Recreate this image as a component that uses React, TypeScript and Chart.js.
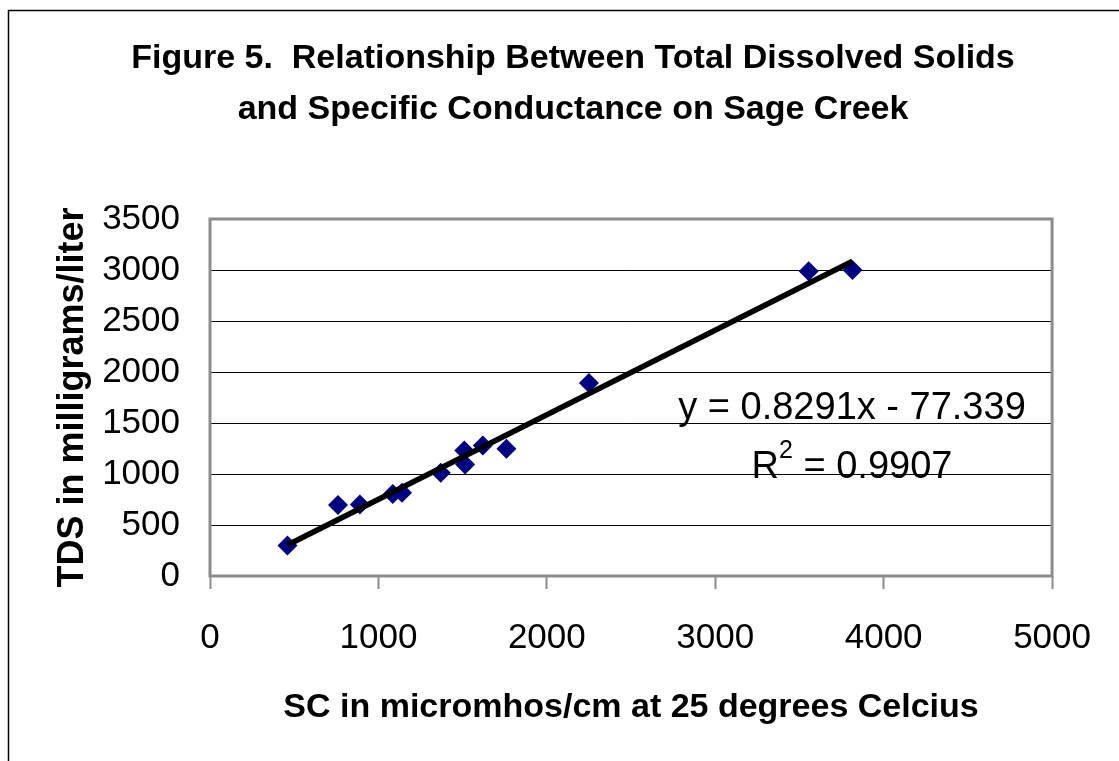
import React, { useEffect, useRef } from "react";
import { Chart, registerables } from "chart.js";

Chart.register(...registerables);

// ---- Data ----
const scValues = [460, 760, 890, 1085, 1140, 1370, 1510, 1515, 1620, 1760, 2250, 3555, 3815];
const tdsValues = [300, 695, 700, 805, 815, 1012, 1230, 1093, 1280, 1248, 1893, 2988, 3000];
const TREND_SLOPE = 0.8291;
const TREND_INTERCEPT = -77.339;
const equationText = "y = 0.8291x - 77.339";
const r2Text = "0.9907";
const titleLines = [
  "Figure 5.  Relationship Between Total Dissolved Solids",
  "and Specific Conductance on Sage Creek",
];
const xAxisTitle = "SC in micromhos/cm at 25 degrees Celcius";
const yAxisTitle = "TDS in milligrams/liter";
const xTickValues = [0, 1000, 2000, 3000, 4000, 5000];
const yTickValues = [0, 500, 1000, 1500, 2000, 2500, 3000, 3500];

const FONT = "'Liberation Sans', Arial, Helvetica, sans-serif";

const framePlugin = {
  id: "frame",
  beforeDraw(chart: any) {
    const { ctx, width, height } = chart;
    ctx.save();
    ctx.fillStyle = "#ffffff";
    ctx.fillRect(0, 0, width, height);
    ctx.restore();
  },
  beforeDatasetsDraw(chart: any) {
    const { ctx, chartArea: a } = chart;
    ctx.save();
    ctx.strokeStyle = "#8c8c8c";
    ctx.lineWidth = 3;
    ctx.strokeRect(a.left, a.top, a.right - a.left, a.bottom - a.top);
    ctx.restore();
  },
  afterDraw(chart: any) {
    const { ctx, width, height } = chart;
    ctx.save();
    ctx.strokeStyle = "#000000";
    ctx.lineWidth = 1.5;
    ctx.beginPath();
    ctx.moveTo(width, 10.5);
    ctx.lineTo(8.5, 10.5);
    ctx.lineTo(8.5, height);
    ctx.stroke();
    ctx.restore();
  },
};

const equationPlugin = {
  id: "equation",
  afterDatasetsDraw(chart: any) {
    const { ctx, chartArea: a } = chart;
    const cx = a.left + 642;
    const base1 = a.top + 200;
    const base2 = base1 + 59;
    ctx.save();
    ctx.fillStyle = "#000000";
    ctx.textBaseline = "alphabetic";
    const mainFont = `38px ${FONT}`;
    const supFont = `25px ${FONT}`;
    ctx.font = mainFont;
    ctx.textAlign = "center";
    ctx.fillText(equationText, cx, base1);
    ctx.textAlign = "left";
    const wR = ctx.measureText("R").width;
    const rest = " = " + r2Text;
    const wRest = ctx.measureText(rest).width;
    ctx.font = supFont;
    const w2 = ctx.measureText("2").width;
    const total = wR + w2 + wRest;
    const x0 = cx - total / 2;
    ctx.font = mainFont;
    ctx.fillText("R", x0, base2);
    ctx.font = supFont;
    ctx.fillText("2", x0 + wR, base2 - 20);
    ctx.font = mainFont;
    ctx.fillText(rest, x0 + wR + w2, base2);
    ctx.restore();
  },
};

export default function App() {
  const canvasRef = useRef<HTMLCanvasElement | null>(null);

  useEffect(() => {
    if (!canvasRef.current) return;
    const points = scValues.map((x, i) => ({ x, y: tdsValues[i] }));
    const minX = Math.min(...scValues);
    const maxX = Math.max(...scValues);
    const trend = [
      { x: minX, y: TREND_SLOPE * minX + TREND_INTERCEPT },
      { x: maxX, y: TREND_SLOPE * maxX + TREND_INTERCEPT },
    ];

    const chart = new Chart(canvasRef.current, {
      type: "scatter",
      data: {
        datasets: [
          {
            label: "Trend",
            data: trend,
            showLine: true,
            borderColor: "#000000",
            borderWidth: 5.5,
            pointRadius: 0,
            order: 0,
          },
          {
            label: "TDS",
            data: points,
            pointStyle: "rectRot",
            pointRadius: 10,
            pointHoverRadius: 10,
            backgroundColor: "#000080",
            borderColor: "#000080",
            borderWidth: 0,
            order: 1,
          },
        ],
      },
      options: {
        responsive: false,
        animation: false,
        devicePixelRatio: 1,
        layout: { padding: { left: 27, top: 0, right: 0, bottom: 0 } },
        plugins: {
          legend: { display: false },
          tooltip: { enabled: false },
          title: {
            display: true,
            text: titleLines,
            color: "#000000",
            font: { family: FONT, size: 34, weight: "bold", lineHeight: 1.5 },
            padding: { top: 33, bottom: 84 },
          },
        },
        scales: {
          x: {
            type: "linear",
            min: 0,
            max: 5000,
            afterBuildTicks: (scale: any) => {
              scale.ticks = xTickValues.map((v) => ({ value: v }));
            },
            afterFit: (scale: any) => {
              scale.height = 185;
            },
            grid: {
              display: true,
              drawOnChartArea: false,
              drawTicks: true,
              tickLength: 13,
              tickColor: "#8c8c8c",
              tickWidth: 2,
            },
            border: { display: false },
            ticks: {
              color: "#000000",
              padding: 28,
              maxRotation: 0,
              font: { family: FONT, size: 35 },
              callback: (v: any) => String(v),
            },
            title: {
              display: true,
              text: xAxisTitle,
              color: "#000000",
              font: { family: FONT, size: 34, weight: "bold" },
              padding: { top: 0, bottom: 33 },
            },
          },
          y: {
            type: "linear",
            position: "left",
            min: 0,
            max: 3500,
            afterBuildTicks: (scale: any) => {
              scale.ticks = yTickValues.map((v) => ({ value: v }));
            },
            afterFit: (scale: any) => {
              scale.width = 183;
            },
            grid: {
              display: true,
              drawOnChartArea: true,
              drawTicks: false,
              color: "#000000",
              lineWidth: 1,
            },
            border: { display: false },
            ticks: {
              color: "#000000",
              padding: 30,
              font: { family: FONT, size: 35 },
              callback: (v: any) => String(v),
            },
            title: {
              display: true,
              text: yAxisTitle,
              color: "#000000",
              font: { family: FONT, size: 36, weight: "bold" },
              padding: { top: 24, bottom: 0 },
            },
          },
          ySpacer: {
            type: "linear",
            position: "right",
            min: 0,
            max: 3500,
            display: true,
            afterFit: (scale: any) => {
              scale.width = 57;
            },
            grid: { display: false },
            border: { display: false },
            ticks: { display: false },
            title: { display: false },
          },
        },
      },
      plugins: [framePlugin, equationPlugin],
    } as any);

    return () => chart.destroy();
  }, []);

  return (
    <div style={{ position: "absolute", left: 0, top: 0, width: 1119, height: 761, overflow: "hidden" }}>
      <canvas ref={canvasRef} width={1119} height={761} style={{ display: "block" }} />
    </div>
  );
}
